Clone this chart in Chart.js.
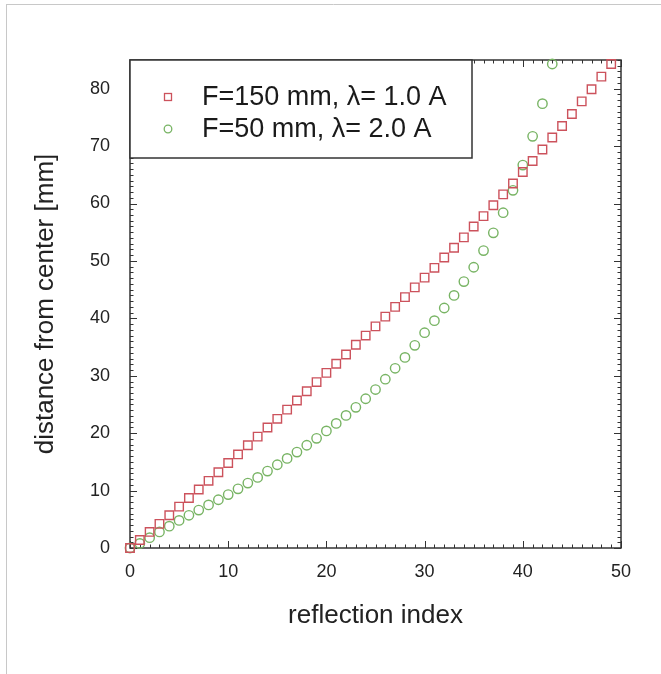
<!DOCTYPE html>
<html>
<head>
<meta charset="utf-8">
<script src="https://cdn.jsdelivr.net/npm/chart.js@4.4.1/dist/chart.umd.min.js"></script>
<style>
    html, body { margin: 0; padding: 0; background: #fff; }
    #wrap { width: 661px; height: 674px; position: relative; }
</style>
</head>
<body>
<div id="wrap"><canvas id="chart" width="661" height="674"></canvas></div>
<script>
// reflection index -> distance from center [mm]
const redLabel = 'F=150 mm, \u03BB= 1.0 A';
const redValues = [0, 1.4, 2.8, 4.2, 5.7, 7.2, 8.7, 10.2, 11.7, 13.2,
    14.8, 16.3, 17.9, 19.4, 21.0, 22.5, 24.1, 25.7, 27.3, 28.9,
    30.5, 32.1, 33.7, 35.4, 37.0, 38.6, 40.3, 42.0, 43.7, 45.4,
    47.1, 48.8, 50.6, 52.3, 54.1, 56.0, 57.8, 59.7, 61.6, 63.5,
    65.5, 67.4, 69.4, 71.5, 73.5, 75.6, 77.8, 79.9, 82.1, 84.3];

const greenLabel = 'F=50 mm, \u03BB= 2.0 A';
const greenValues = [0, 0.8, 1.8, 2.8, 3.8, 4.8, 5.7, 6.6, 7.5, 8.4,
    9.3, 10.3, 11.3, 12.3, 13.4, 14.5, 15.6, 16.7, 17.9, 19.1,
    20.4, 21.7, 23.1, 24.5, 26.0, 27.6, 29.4, 31.3, 33.2, 35.3,
    37.5, 39.6, 41.8, 44.0, 46.4, 48.9, 51.8, 54.9, 58.4, 62.3,
    66.7, 71.7, 77.4, 84.3];

const xTicks = [0, 10, 20, 30, 40, 50];
const yTicks = [0, 10, 20, 30, 40, 50, 60, 70, 80];

const RED = 'rgb(204, 82, 92)';
const GREEN = 'rgb(120, 180, 100)';
const AXIS = '#333';
const FONT = '"Liberation Sans", Arial, sans-serif';

const toPoints = (vals) => vals.map((v, i) => ({ x: i, y: v }));

// frame with inward major/minor ticks on all four sides
const framePlugin = {
    id: 'frame',
    beforeDraw(chart) {
        const ctx = chart.ctx;
        ctx.save();
        ctx.strokeStyle = '#c8c8c8';
        ctx.lineWidth = 1;
        ctx.beginPath();
        ctx.moveTo(6, 4.5); ctx.lineTo(661, 4.5);
        ctx.moveTo(6.5, 4); ctx.lineTo(6.5, 674);
        ctx.stroke();
        ctx.restore();
    },
    beforeDatasetsDraw(chart) {
        const { ctx, chartArea: a, scales: { x, y } } = chart;
        ctx.save();
        ctx.strokeStyle = AXIS;
        ctx.lineWidth = 1;
        ctx.beginPath();
        for (let v = x.min; v <= x.max; v += 1) {
            const px = Math.round(x.getPixelForValue(v)) + 0.5;
            const len = v % 10 === 0 ? 7 : 3.5;
            ctx.moveTo(px, a.bottom); ctx.lineTo(px, a.bottom - len);
            ctx.moveTo(px, a.top); ctx.lineTo(px, a.top + len);
        }
        for (let v = y.min; v <= y.max; v += 1) {
            const py = Math.round(y.getPixelForValue(v)) + 0.5;
            const len = v % 10 === 0 ? 7 : 3.5;
            ctx.moveTo(a.left, py); ctx.lineTo(a.left + len, py);
            ctx.moveTo(a.right, py); ctx.lineTo(a.right - len, py);
        }
        ctx.stroke();
        ctx.lineWidth = 1.5;
        ctx.strokeRect(a.left, a.top, a.right - a.left, a.bottom - a.top);
        ctx.restore();
    }
};

// boxed legend in the upper left corner of the plot
const legendBoxPlugin = {
    id: 'legendBox',
    afterDatasetsDraw(chart) {
        const { ctx, chartArea: a } = chart;
        ctx.save();
        ctx.fillStyle = '#fff';
        ctx.strokeStyle = AXIS;
        ctx.lineWidth = 1.5;
        ctx.fillRect(a.left, a.top, 342, 98);
        ctx.strokeRect(a.left, a.top, 342, 98);

        ctx.lineWidth = 1.3;
        ctx.strokeStyle = RED;
        ctx.strokeRect(a.left + 34.5, a.top + 33.5, 7, 7);
        ctx.strokeStyle = GREEN;
        ctx.beginPath();
        ctx.arc(a.left + 38, a.top + 69, 3.8, 0, Math.PI * 2);
        ctx.stroke();

        ctx.fillStyle = '#1a1a1a';
        ctx.font = '27px ' + FONT;
        ctx.textBaseline = 'middle';
        ctx.fillText(redLabel, a.left + 72, a.top + 38);
        ctx.fillText(greenLabel, a.left + 72, a.top + 70);
        ctx.restore();
    }
};

new Chart(document.getElementById('chart'), {
    type: 'scatter',
    data: {
        datasets: [
            {
                label: redLabel,
                data: toPoints(redValues),
                pointStyle: 'rect',
                radius: 6,
                borderColor: RED,
                borderWidth: 1.4,
                backgroundColor: 'rgba(0,0,0,0)',
                clip: false
            },
            {
                label: greenLabel,
                data: toPoints(greenValues),
                pointStyle: 'circle',
                radius: 4.7,
                borderColor: GREEN,
                borderWidth: 1.4,
                backgroundColor: 'rgba(0,0,0,0)',
                clip: false
            }
        ]
    },
    options: {
        responsive: false,
        animation: false,
        layout: { padding: { left: 0, right: 40, top: 60, bottom: 0 } },
        plugins: {
            legend: { display: false },
            tooltip: { enabled: false }
        },
        scales: {
            x: {
                type: 'linear',
                min: 0,
                max: 50,
                afterFit: (s) => { s.height = 126; },
                afterBuildTicks: (s) => { s.ticks = xTicks.map(v => ({ value: v })); },
                grid: { display: false },
                border: { display: false },
                ticks: { font: { family: FONT, size: 18 }, color: '#222', padding: 5, maxRotation: 0 },
                title: {
                    display: true,
                    text: 'reflection index',
                    font: { family: FONT, size: 26 },
                    color: '#222',
                    padding: { top: 0, bottom: 43 }
                }
            },
            y: {
                type: 'linear',
                min: 0,
                max: 85,
                afterFit: (s) => { s.width = 130; },
                afterBuildTicks: (s) => { s.ticks = yTicks.map(v => ({ value: v })); },
                grid: { display: false },
                border: { display: false },
                ticks: { font: { family: FONT, size: 18 }, color: '#222', padding: 12 },
                title: {
                    display: true,
                    text: 'distance from center [mm]',
                    font: { family: FONT, size: 26 },
                    color: '#222',
                    padding: { top: 30, bottom: 0 }
                }
            }
        }
    },
    plugins: [framePlugin, legendBoxPlugin]
});
</script>
</body>
</html>
